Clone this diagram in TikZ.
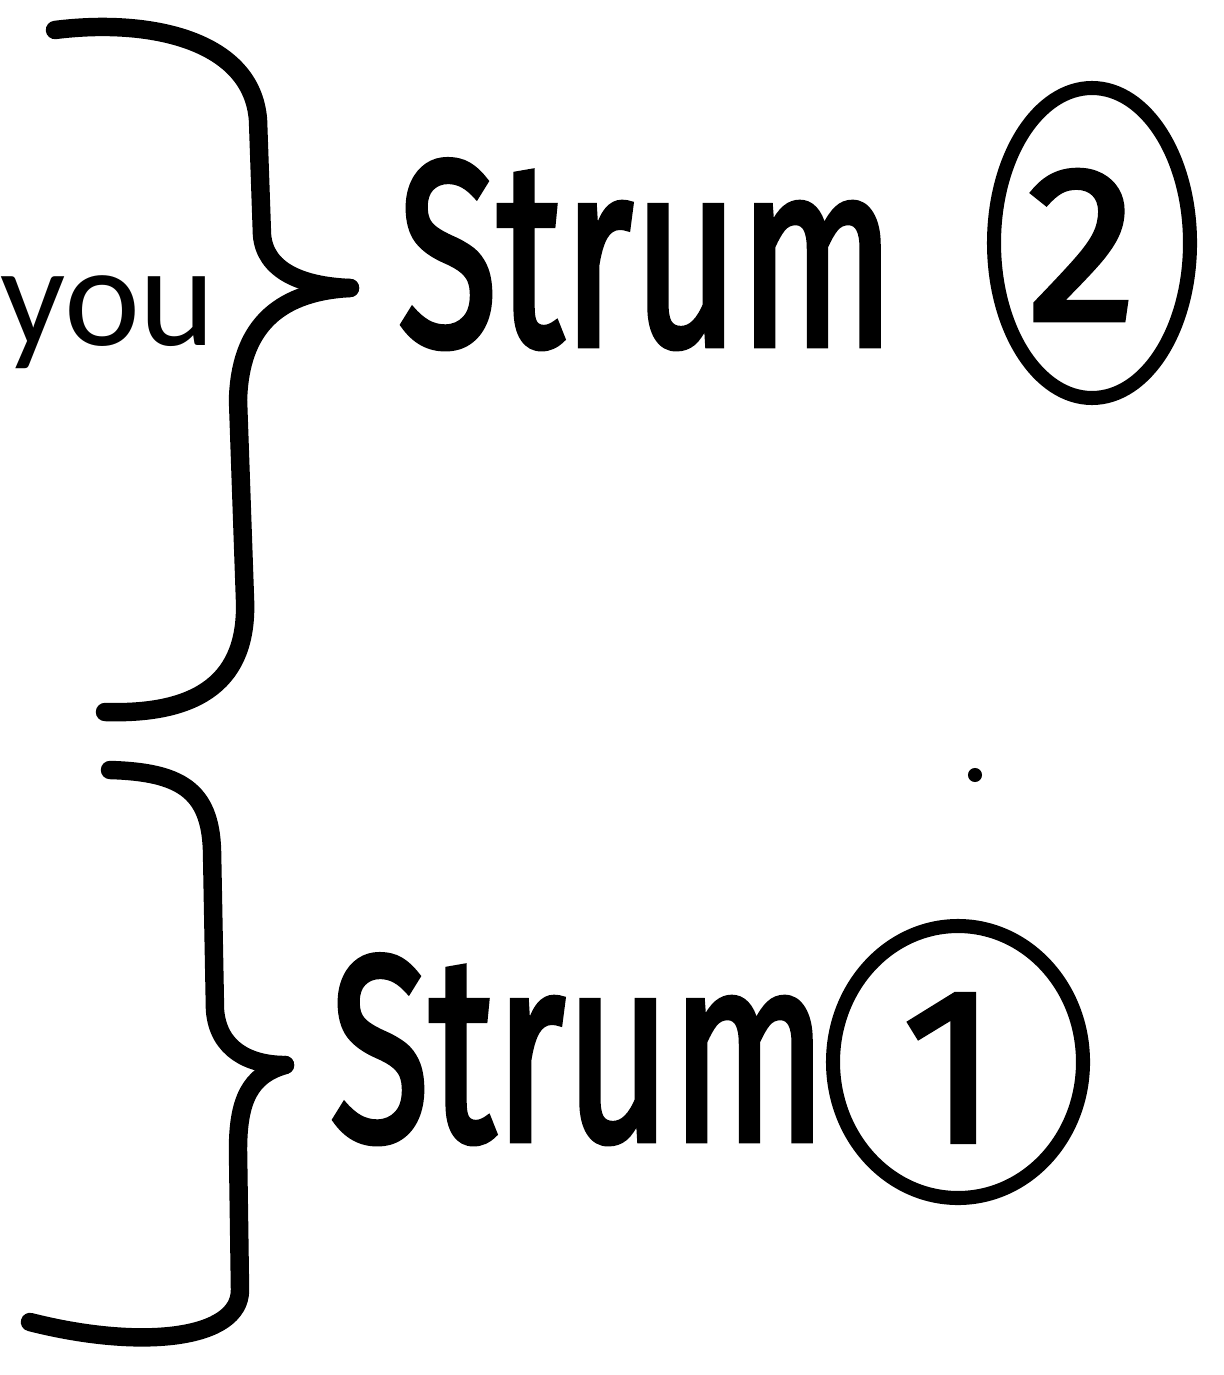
\documentclass[tikz,border=0pt]{standalone}
\usepackage{fontspec}
\setmainfont{Carlito}
\newfontfamily\handfont[FakeBold=2.5]{Fira Sans}
\begin{document}
\begin{tikzpicture}[x=0.02cm,y=-0.02cm,
  ink/.style={line width=10.5pt,line cap=round,line join=round,black},
  thinink/.style={line width=8pt,line cap=round,line join=round,black},
  strumtxt/.style={font=\handfont\fontsize{150}{150}\selectfont,inner sep=0pt,anchor=base west},
  digittxt/.style={font=\handfont\fontsize{125}{125}\selectfont,inner sep=0pt},
  youtxt/.style={font=\fontsize{82}{82}\selectfont,inner sep=0pt,anchor=base west}]
\useasboundingbox (0,0) rectangle (1223,1375);
% top brace
\draw[ink] (55,30) .. controls (150,18) and (252,40) .. (258,120) -- (262,235)
  .. controls (265,270) and (300,286) .. (350,288);
\draw[ink] (350,288) .. controls (275,292) and (240,330) .. (238,400) -- (245,600)
  .. controls (248,680) and (200,715) .. (105,712);
% bottom brace
\draw[ink] (110,770) .. controls (180,772) and (210,790) .. (212,850) -- (215,1010)
  .. controls (218,1050) and (250,1065) .. (285,1065);
\draw[ink] (285,1065) .. controls (250,1075) and (238,1100) .. (238,1150) -- (240,1290)
  .. controls (240,1340) and (140,1350) .. (30,1322);
% texts
\node[youtxt] (you) at (0,345) {you};
\node[strumtxt,xscale=0.69,transform shape] (s2) at (398,345) {Strum};
\node[strumtxt,xscale=0.69,transform shape] (s1) at (330,1140) {Strum};
% circled numbers
\draw[thinink] (1092,243) ellipse [x radius=98,y radius=155];
\node[digittxt] (d2) at (1082,245) {2};
\draw[thinink] (958,1062) ellipse [x radius=125,y radius=136];
\node[digittxt] (d1) at (950,1068) {1};
% dot
\fill (975,775) circle [radius=4pt];
\end{tikzpicture}
\end{document}
